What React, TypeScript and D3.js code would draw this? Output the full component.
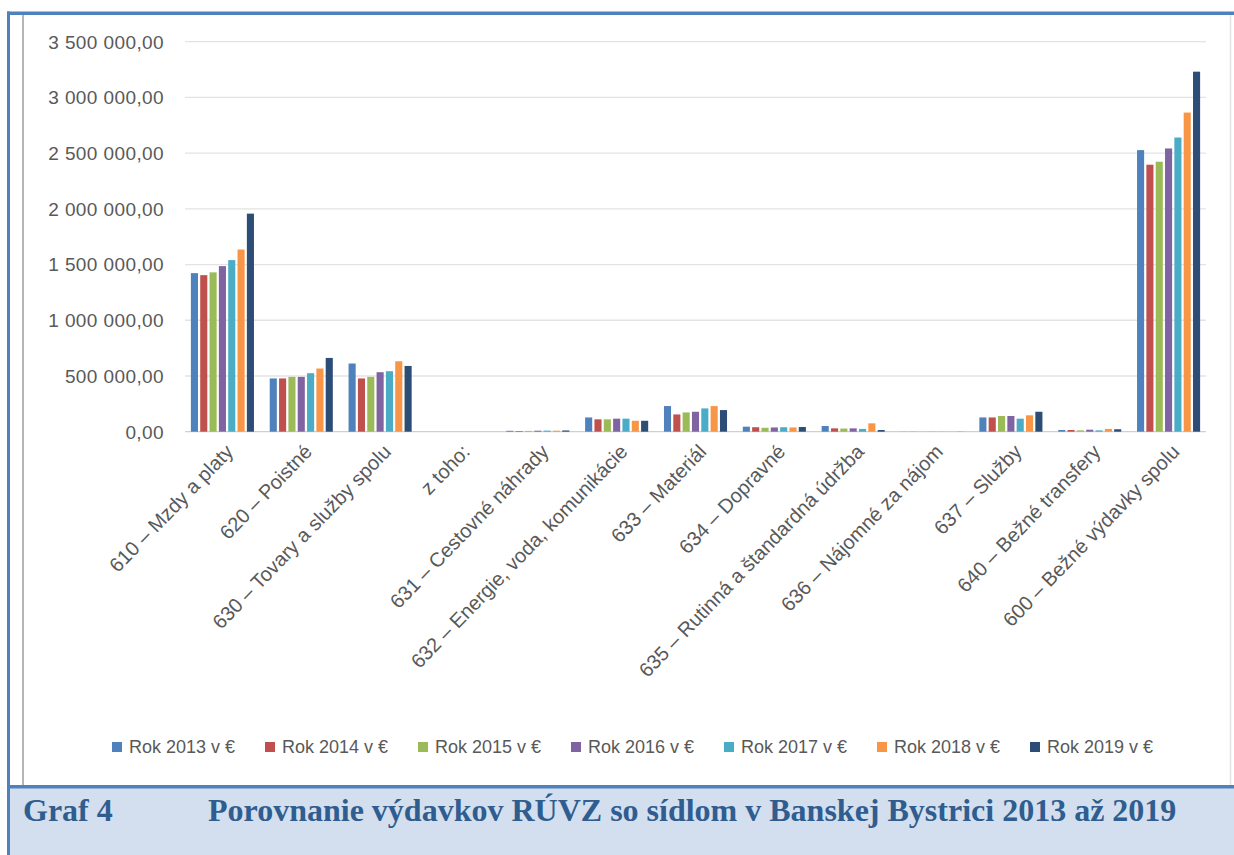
import React from "react";
import * as d3 from "d3";

const categories = [
  "610 – Mzdy a platy",
  "620 – Poistné",
  "630 – Tovary a služby spolu",
  "z toho:",
  "631 – Cestovné náhrady",
  "632 – Energie, voda, komunikácie",
  "633 – Materiál",
  "634 – Dopravné",
  "635 – Rutinná a štandardná údržba",
  "636 – Nájomné za nájom",
  "637 – Služby",
  "640 – Bežné transfery",
  "600 – Bežné výdavky spolu",
];

const seriesNames = [
  "Rok 2013 v €",
  "Rok 2014 v €",
  "Rok 2015 v €",
  "Rok 2016 v €",
  "Rok 2017 v €",
  "Rok 2018 v €",
  "Rok 2019 v €",
];

const colors = ["#4F81BD", "#C0504D", "#9BBB59", "#8064A2", "#4BACC6", "#F79646", "#2C4D75"];

// values per series, in category order
const y2013 = [1423000, 478000, 612000, 0, 8000, 128000, 230000, 45000, 51000, 1000, 128000, 15000, 2527000];
const y2014 = [1405000, 478000, 478000, 0, 6000, 111000, 155000, 40000, 30000, 1000, 128000, 15000, 2396000];
const y2015 = [1430000, 492000, 492000, 0, 7000, 111000, 173000, 35000, 28000, 1000, 141000, 12000, 2423000];
const y2016 = [1486000, 492000, 534000, 0, 9000, 117000, 179000, 38000, 30000, 1000, 141000, 18000, 2542000];
const y2017 = [1540000, 525000, 543000, 0, 10000, 117000, 209000, 40000, 25000, 1000, 117000, 12000, 2640000];
const y2018 = [1635000, 567000, 632000, 0, 9000, 98000, 230000, 38000, 75000, 1000, 147000, 25000, 2864000];
const y2019 = [1957000, 662000, 590000, 0, 11000, 98000, 194000, 42000, 15000, 1000, 179000, 22000, 3231000];

const seriesValues = [y2013, y2014, y2015, y2016, y2017, y2018, y2019];

const yTicks = [0, 500000, 1000000, 1500000, 2000000, 2500000, 3000000, 3500000];

const captionLabel = "Graf 4";
const captionTitle = "Porovnanie výdavkov RÚVZ so sídlom v Banskej Bystrici 2013 až 2019";

const W = 1234;
const H = 855;

const locale = d3.formatLocale({
  decimal: ",",
  thousands: " ",
  grouping: [3],
  currency: ["", " €"],
});
const fmt = locale.format(",.2f");

export default function App() {
  const x = d3
    .scaleBand<string>()
    .domain(categories)
    .range([183, 1208])
    .paddingInner(0.2)
    .paddingOuter(0.1);
  const xi = d3
    .scaleBand<string>()
    .domain(seriesNames)
    .range([0, x.bandwidth()])
    .paddingInner(0.24)
    .paddingOuter(0);
  const y = d3.scaleLinear().domain([0, 3500000]).range([431.7, 41.7]);

  const labelColor = "#595959";
  const font = "'Liberation Sans', Arial, sans-serif";

  return (
    <svg
      width={W}
      height={H}
      style={{ position: "absolute", left: 0, top: 0, display: "block", background: "#fff" }}
    >
      {/* frame */}
      <rect x={0} y={0} width={W} height={H} fill="#ffffff" />
      <rect x={10} y={787} width={W - 10} height={H - 787} fill="#D3DFEE" />
      <rect x={7} y={11.5} width={3} height={H - 11.5} fill="#4F81BD" />
      <rect x={7} y={11.5} width={W - 7} height={3.5} fill="#4F81BD" />
      <rect x={10} y={785} width={W - 10} height={3.5} fill="#4F81BD" />
      <line x1={23} x2={23} y1={15} y2={785} stroke="#B5B5B5" strokeWidth={2} />
      <line x1={1230.5} x2={1230.5} y1={15} y2={785} stroke="#E2E2E2" strokeWidth={1.5} />

      {/* gridlines */}
      {yTicks.map((t) => (
        <line
          key={"g" + t}
          x1={185}
          x2={1206}
          y1={y(t)}
          y2={y(t)}
          stroke={t === 0 ? "#D0D0D0" : "#E3E3E3"}
          strokeWidth={1.3}
        />
      ))}

      {/* y tick labels */}
      {yTicks.map((t) => (
        <text
          key={"t" + t}
          x={164}
          y={y(t)}
          dy="0.36em"
          textAnchor="end"
          fontFamily={font}
          fontSize={19}
          fill={labelColor}
          letterSpacing={0.4}
        >
          {fmt(t)}
        </text>
      ))}

      {/* bars */}
      {categories.map((c, ci) => (
        <g key={c} transform={`translate(${x(c)},0)`}>
          {seriesNames.map((s, si) => {
            const v = seriesValues[si][ci];
            const top = y(v);
            return (
              <rect
                key={s}
                x={xi(s)}
                y={top}
                width={xi.bandwidth()}
                height={y(0) - top}
                fill={colors[si]}
              />
            );
          })}
        </g>
      ))}

      {/* x labels */}
      {categories.map((c) => {
        const cx = (x(c) as number) + x.bandwidth() / 2 + 7;
        return (
          <text
            key={"xl" + c}
            transform={`translate(${cx},448) rotate(-46)`}
            textAnchor="end"
            dy="0.35em"
            fontFamily={font}
            fontSize={20}
            fill={labelColor}
          >
            {c}
          </text>
        );
      })}

      {/* legend */}
      {seriesNames.map((s, i) => {
        const lx = 112 + i * 153;
        return (
          <g key={"lg" + s} transform={`translate(${lx},747)`}>
            <rect x={0} y={-5} width={10} height={10} fill={colors[i]} />
            <text x={17} y={0} dy="0.36em" fontFamily={font} fontSize={18} fill={labelColor}>
              {s}
            </text>
          </g>
        );
      })}

      {/* caption */}
      <text
        x={23}
        y={821}
        fontFamily="'Liberation Serif', 'Times New Roman', serif"
        fontWeight="bold"
        fontSize={32}
        fill="#2F5D8F"
      >
        {captionLabel}
      </text>
      <text
        x={208}
        y={821}
        fontFamily="'Liberation Serif', 'Times New Roman', serif"
        fontWeight="bold"
        fontSize={32}
        fill="#2F5D8F"
      >
        {captionTitle}
      </text>
    </svg>
  );
}
